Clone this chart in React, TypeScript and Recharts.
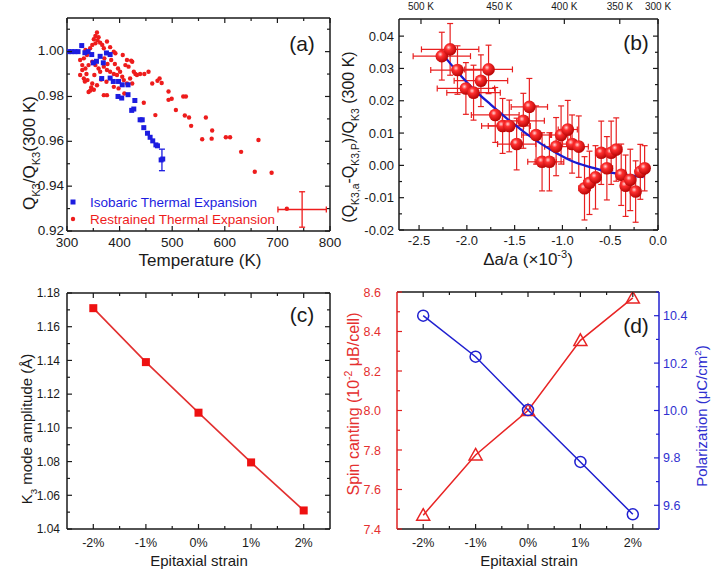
import React from 'react';
import { ScatterChart, ComposedChart, Scatter, Line, XAxis, YAxis, ErrorBar, Legend } from 'recharts';

const W = 712;
const H = 583;
const FONT = '"Liberation Sans", Arial, Helvetica, sans-serif';
const RED = '#ee1c1c';
const BLUE = '#1c1ce0';
const INK = '#1a1a1a';

// ---------------- Panel (a) data ----------------
const isobaricPoints: [number, number][] = [
  [303, 1.0], [309, 1.0], [315, 1.0], [321, 1.0], [328, 1.0027], [334, 0.9995], [340, 1.0],
  [347, 0.9987], [350, 0.995], [356, 0.9957], [363, 0.9979], [369, 0.995], [375, 0.9994],
  [382, 0.9987], [366, 0.988], [382, 0.9882], [388, 0.9867], [398, 0.9867], [405, 0.9852],
  [416, 0.9852], [397, 0.98], [404, 0.9793], [416, 0.9808], [429, 0.9782], [423, 0.9738],
  [427, 0.9744], [439, 0.9696], [443, 0.9696], [446, 0.9661], [453, 0.9636], [458, 0.9618],
  [463, 0.9602], [469, 0.9584], [472, 0.958], [479, 0.9517], [482, 0.9521],
];
const restrainedPoints: [number, number][] = [
  [357, 1.0085], [354, 1.007], [360, 1.0064], [351, 1.0055], [358, 1.005], [363, 1.004],
  [354, 1.0037], [348, 1.003], [367, 1.003], [344, 1.0015], [370, 1.0015], [376, 1.0045],
  [382, 1.002], [389, 1.0], [392, 0.9993], [335, 1.0007], [338, 0.9985], [332, 0.997],
  [325, 0.9963], [329, 0.994], [335, 0.9925], [341, 0.994], [348, 0.9955], [354, 0.994],
  [360, 0.9925], [363, 0.991], [370, 0.9933], [376, 0.9918], [382, 0.991], [389, 0.99],
  [395, 0.9896], [401, 0.991], [405, 0.9888], [408, 0.9873], [411, 0.994], [417, 0.9933],
  [424, 0.9955], [427, 0.991], [430, 0.99], [433, 0.9896], [420, 0.988], [325, 0.9896],
  [332, 0.988], [339, 0.9873], [348, 0.9858], [357, 0.985], [341, 0.982], [346, 0.984],
  [351, 0.983], [370, 0.9806], [376, 0.9806], [329, 0.9918], [337, 0.99], [352, 0.9896],
  [365, 0.9876], [375, 0.9866], [389, 0.9843], [398, 0.9836], [409, 0.9813], [414, 0.9858],
  [424, 0.9858], [439, 0.99], [447, 0.99], [422, 0.996], [455, 0.991], [462, 0.9858],
  [472, 0.987], [476, 0.988], [480, 0.986], [493, 0.9822], [493, 0.9785], [499, 0.979],
  [507, 0.974], [521, 0.98], [526, 0.98], [524, 0.9715], [532, 0.9706], [536, 0.9669],
  [564, 0.9706], [557, 0.9609], [575, 0.9612], [576, 0.9648], [602, 0.9618], [610, 0.9618],
  [631, 0.9553], [664, 0.9606], [657, 0.9464], [689, 0.946], [468, 0.9717], [446, 0.9772],
  [414, 0.9963], [406, 0.9985], [397, 0.9925], [391, 0.9945], [384, 0.9963], [371, 0.997],
  [377, 0.9945], [334, 0.9867], [344, 0.9826], [718, 0.9299],
];
const isobaricErrorPoint = [{ t: 480.5, q: 0.9517, qe: 0.0048 }];
const restrainedErrorCross = [{ t: 747, q: 0.9296, te: 46, qe: 0.0079 }];
const tempMajor = [300, 400, 500, 600, 700, 800];
const tempMinor = [350, 450, 550, 650, 750];
const qMajor = [0.92, 0.94, 0.96, 0.98, 1.0];
const qMinor = [0.93, 0.95, 0.97, 0.99, 1.01];

// ---------------- Panel (b) data ----------------
const bStrain = [-2.262, -2.175, -2.098, -2.01, -1.93, -1.853, -1.773, -1.703, -1.626, -1.556, -1.479, -1.409, -1.346, -1.276, -1.213, -1.136, -1.066, -1.014, -0.944, -0.899, -0.829, -0.769, -0.717, -0.654, -0.594, -0.535, -0.49, -0.437, -0.385, -0.339, -0.29, -0.234, -0.185, -0.14];
const bDev = [0.0338, 0.0359, 0.0295, 0.0238, 0.0225, 0.0262, 0.0297, 0.0156, 0.0122, 0.0122, 0.0066, 0.0138, 0.0181, 0.0094, 0.0011, 0.0011, 0.0058, 0.0094, 0.0111, 0.0066, 0.0058, -0.0071, -0.0054, -0.0037, 0.0039, -0.0009, 0.0039, 0.0049, -0.0029, -0.0063, -0.0045, -0.0081, -0.002, -0.0009];
const bStrainErr = [0.3, 0.3, 0.28, 0.3, 0.28, 0.28, 0.25, 0.25, 0.22, 0.22, 0.2, 0.22, 0.19, 0.15, 0.15, 0.15, 0.12, 0.1, 0.1, 0.1, 0.1, 0.06, 0.06, 0.06, 0.06, 0.06, 0.06, 0.06, 0.05, 0.05, 0.05, 0.05, 0.05, 0.05];
const bDevErr = [0.0074, 0.008, 0.0075, 0.008, 0.0085, 0.008, 0.0075, 0.0085, 0.0085, 0.008, 0.008, 0.0085, 0.0088, 0.009, 0.009, 0.009, 0.009, 0.009, 0.009, 0.009, 0.0095, 0.0098, 0.0098, 0.0098, 0.0098, 0.0098, 0.0098, 0.0098, 0.0095, 0.0095, 0.0095, 0.0095, 0.0085, 0.007];
const fitStrain = [-2.26, -2.1, -1.93, -1.75, -1.58, -1.4, -1.23, -1.05, -0.89, -0.7, -0.53, -0.35, -0.18, -0.15];
const fitDev = [0.0346, 0.029, 0.0236, 0.0188, 0.0145, 0.0103, 0.0068, 0.0036, 0.0012, -0.0006, -0.002, -0.0029, -0.0035, -0.0036];
const bStrainMajor = [-2.5, -2, -1.5, -1, -0.5, 0];
const bStrainMinor = [-2.25, -1.75, -1.25, -0.75, -0.25];
const bDevMajor = [-0.02, -0.01, 0, 0.01, 0.02, 0.03, 0.04];
const bDevMinor = [-0.015, -0.005, 0.005, 0.015, 0.025, 0.035];
const bTempTicks = [-2.48, -1.66, -0.98, -0.4, 0];
const bTempLabels = ['500 K', '450 K', '400 K', '350 K', '300 K'];

// ---------------- Panels (c), (d) data ----------------
const strain = [-2, -1, 0, 1, 2];
const strainLabels = ['-2%', '-1%', '0%', '1%', '2%'];
const strainMinor = [-1.5, -0.5, 0.5, 1.5];
const k3Amplitude = [1.171, 1.139, 1.109, 1.0795, 1.051];
const k3Major = [1.04, 1.06, 1.08, 1.1, 1.12, 1.14, 1.16, 1.18];
const k3Minor = [1.05, 1.07, 1.09, 1.11, 1.13, 1.15, 1.17];
const spinCanting = [7.47, 7.775, 8.0, 8.355, 8.57];
const polarization = [10.4, 10.227, 10.002, 9.783, 9.562];
const spinMajor = [7.4, 7.6, 7.8, 8.0, 8.2, 8.4, 8.6];
const spinMinor = [7.5, 7.7, 7.9, 8.1, 8.3, 8.5];
const polMajor = [9.6, 9.8, 10.0, 10.2, 10.4];
const polMinor = [9.5, 9.7, 9.9, 10.1, 10.3, 10.5];

// ---------------- rows ----------------
const isoRows = isobaricPoints.map(([t, q]) => ({ t, q }));
const resRows = restrainedPoints.map(([t, q]) => ({ t, q }));
const bRows = bStrain.map((x, i) => ({ x, y: bDev[i], xe: bStrainErr[i], ye: bDevErr[i] }));
const fitRows = fitStrain.map((x, i) => ({ x, y: fitDev[i] }));
const cRows = strain.map((s, i) => ({ s, k: k3Amplitude[i] }));
const dRows = strain.map((s, i) => ({ s, spin: spinCanting[i], pol: polarization[i] }));

type Side = 'bottom' | 'top' | 'left' | 'right';
const near = (arr: number[], v: number) => arr.findIndex((m) => Math.abs(m - v) < 1e-6);

function makeTick(side: Side, majors: number[], fmt: ((v: number) => string) | null, opts: { color?: string; size?: number; off?: number; line?: string; lift?: number } = {}) {
  const color = opts.color || INK;
  const size = opts.size || 13;
  const off = opts.off ?? 4;
  const lineColor = opts.line || INK;
  const lift = opts.lift ?? 0.36;
  return (props: any) => {
    const { x, y, payload } = props;
    const v = Number(payload.value);
    const major = near(majors, v) >= 0;
    const len = major ? 5 : 3;
    let l: any;
    let t: any = null;
    if (side === 'bottom') l = <line x1={x} x2={x} y1={y} y2={y - len} />;
    else if (side === 'top') l = <line x1={x} x2={x} y1={y} y2={y + len} />;
    else if (side === 'left') l = <line x1={x} x2={x + len} y1={y} y2={y} />;
    else l = <line x1={x} x2={x - len} y1={y} y2={y} />;
    if (major && fmt) {
      const s = fmt(v);
      const common = { fill: color, fontSize: size, fontFamily: FONT };
      if (side === 'bottom') t = <text x={x} y={y + off} textAnchor="middle" {...common}>{s}</text>;
      else if (side === 'top') t = <text x={x} y={y - off} textAnchor="middle" {...common}>{s}</text>;
      else if (side === 'left') t = <text x={x - off} y={y + size * lift} textAnchor="end" {...common}>{s}</text>;
      else t = <text x={x + off} y={y + size * lift} textAnchor="start" {...common}>{s}</text>;
    }
    return (
      <g>
        <g stroke={lineColor} strokeWidth={1.2}>{l}</g>
        {t}
      </g>
    );
  };
}

const axisBase = {
  type: 'number' as const,
  interval: 0 as const,
  tickSize: 0,
  tickMargin: 0,
  tickLine: false,
  allowDataOverflow: true,
};
const axisLine = (c: string = INK) => ({ stroke: c, strokeWidth: 1.5 });

type Part = [string, 'n' | 'sub' | 'sup'];
function rich(parts: Part[], fontSize: number) {
  let cur = 0;
  return parts.map(([s, kind], i) => {
    const target = kind === 'sub' ? fontSize * 0.3 : kind === 'sup' ? -fontSize * 0.42 : 0;
    const dy = target - cur;
    cur = target;
    return (
      <tspan key={i} dy={dy} fontSize={kind === 'n' ? fontSize : fontSize * 0.65}>
        {s}
      </tspan>
    );
  });
}

function VTitle({ x, y, parts, size, color = INK }: { x: number; y: number; parts: Part[]; size: number; color?: string }) {
  return (
    <text transform={`translate(${x},${y}) rotate(-90)`} textAnchor="middle" fontFamily={FONT} fontSize={size} fill={color}>
      {rich(parts, size)}
    </text>
  );
}
function HTitle({ x, y, parts, size, color = INK }: { x: number; y: number; parts: Part[]; size: number; color?: string }) {
  return (
    <text x={x} y={y} textAnchor="middle" fontFamily={FONT} fontSize={size} fill={color}>
      {rich(parts, size)}
    </text>
  );
}
function PanelTag({ x, y, s }: { x: number; y: number; s: string }) {
  return (
    <text x={x} y={y} textAnchor="middle" fontFamily={FONT} fontSize={21} fill={INK}>
      {s}
    </text>
  );
}

const SquareDot = (size: number, color: string) => (p: any) =>
  p.cx == null ? <g /> : <rect x={p.cx - size / 2} y={p.cy - size / 2} width={size} height={size} fill={color} />;
const RoundDot = (r: number, color: string) => (p: any) =>
  p.cx == null ? <g /> : <circle cx={p.cx} cy={p.cy} r={r} fill={color} />;
const Nothing = () => <g />;

const Sphere = (p: any) => {
  if (p.cx == null) return <g />;
  return (
    <g>
      <defs>
        <radialGradient id="sphereGrad" cx="38%" cy="35%" r="70%">
          <stop offset="0%" stopColor="#ffd6d6" />
          <stop offset="30%" stopColor="#ff3030" />
          <stop offset="100%" stopColor="#b00000" />
        </radialGradient>
      </defs>
      <circle cx={p.cx} cy={p.cy} r={6.3} fill="url(#sphereGrad)" />
    </g>
  );
};

const legendContent = (props: any) => {
  const items = (props.payload || []).filter((p: any) => p.type !== 'none');
  items.sort((a: any, b: any) => (a.type === 'square' ? -1 : 1) - (b.type === 'square' ? -1 : 1));
  return (
    <svg width={270} height={36} style={{ overflow: 'visible', display: 'block' }}>
      {items.map((p: any, i: number) => (
        <g key={i} transform={`translate(0, ${i * 17})`}>
          {p.type === 'square' ? (
            <rect x={2.5} y={5.5} width={5} height={5} fill={p.color} />
          ) : (
            <circle cx={5} cy={8} r={2.2} fill={p.color} />
          )}
          <text x={22} y={13} fontSize={13.5} fontFamily={FONT} fill={p.color}>
            {p.value}
          </text>
        </g>
      ))}
    </svg>
  );
};

const layer: React.CSSProperties = { position: 'absolute', left: 0, top: 0 };

// Each chart spans the whole page; margins place its plot area. Axes are 1px thick boxes.
function PanelA() {
  return (
    <ScatterChart width={W} height={H} margin={{ top: 17, left: 66, right: 381, bottom: 351 }}>
      <XAxis {...axisBase} dataKey="t" domain={[300, 800]} ticks={[...tempMajor, ...tempMinor]} height={1} axisLine={axisLine()}
        tick={makeTick('bottom', tempMajor, (v) => String(v), { size: 13.5, off: 16 })} />
      <XAxis {...axisBase} xAxisId="top" orientation="top" dataKey="t" domain={[300, 800]} ticks={[...tempMajor, ...tempMinor]} height={1} axisLine={axisLine()}
        tick={makeTick('top', tempMajor, null)} />
      <YAxis {...axisBase} dataKey="q" domain={[0.92, 1.015]} ticks={[...qMajor, ...qMinor]} width={1} axisLine={axisLine()}
        tick={makeTick('left', qMajor, (v) => v.toFixed(2), { size: 13.5, off: 3, lift: 0.28 })} />
      <YAxis {...axisBase} yAxisId="right" orientation="right" dataKey="q" domain={[0.92, 1.015]} ticks={[...qMajor, ...qMinor]} width={1} axisLine={axisLine()}
        tick={makeTick('right', qMajor, null)} />
      <Scatter name="Restrained Thermal Expansion" data={resRows} fill={RED} legendType="circle" shape={RoundDot(2.2, RED)} isAnimationActive={false} />
      <Scatter name="Isobaric Thermal Expansion" data={isoRows} fill={BLUE} legendType="square" shape={SquareDot(5, BLUE)} isAnimationActive={false} />
      <Scatter name="iso-err" data={isobaricErrorPoint} fill={BLUE} legendType="none" shape={Nothing} isAnimationActive={false}>
        <ErrorBar dataKey="qe" direction="y" width={3} stroke={BLUE} strokeWidth={1.3} isAnimationActive={false} />
      </Scatter>
      <Scatter name="res-err" data={restrainedErrorCross} fill={RED} legendType="none" shape={Nothing} isAnimationActive={false}>
        <ErrorBar dataKey="qe" direction="y" width={3} stroke={RED} strokeWidth={1.3} isAnimationActive={false} />
        <ErrorBar dataKey="te" direction="x" width={3} stroke={RED} strokeWidth={1.3} isAnimationActive={false} />
      </Scatter>
      <Legend content={legendContent} layout="vertical" align="center" verticalAlign="middle"
        wrapperStyle={{ left: 68, top: 194, width: 270, height: 36 }} />
      <VTitle x={35} y={153} size={17} parts={[['Q', 'n'], ['K3', 'sub'], ['/Q', 'n'], ['K3', 'sub'], ['(300 K)', 'n']]} />
      <HTitle x={200} y={266} size={17} parts={[['Temperature (K)', 'n']]} />
      <PanelTag x={302} y={51} s="(a)" />
    </ScatterChart>
  );
}

function PanelB() {
  return (
    <ComposedChart width={W} height={H} margin={{ top: 18, left: 398, right: 53, bottom: 352 }}>
      <XAxis {...axisBase} dataKey="x" domain={[-2.71, 0]} ticks={[...bStrainMajor, ...bStrainMinor]} height={1} axisLine={axisLine()}
        tick={makeTick('bottom', bStrainMajor, (v) => v.toFixed(1), { size: 13, off: 15 })} />
      <XAxis {...axisBase} xAxisId="top" orientation="top" dataKey="x" domain={[-2.71, 0]} ticks={bTempTicks} height={1} axisLine={axisLine()}
        tick={makeTick('top', bTempTicks, (v) => bTempLabels[near(bTempTicks, v)], { size: 10, off: 9 })} />
      <YAxis {...axisBase} dataKey="y" domain={[-0.02, 0.0453]} ticks={[...bDevMajor, ...bDevMinor]} width={1} axisLine={axisLine()}
        tick={makeTick('left', bDevMajor, (v) => v.toFixed(2), { size: 13, off: 5 })} />
      <YAxis {...axisBase} yAxisId="right" orientation="right" dataKey="y" domain={[-0.02, 0.0453]} ticks={[...bDevMajor, ...bDevMinor]} width={1} axisLine={axisLine()}
        tick={makeTick('right', bDevMajor, null)} />
      <Scatter name="dev" data={bRows} fill={RED} shape={Sphere} isAnimationActive={false}>
        <ErrorBar dataKey="ye" direction="y" width={3} stroke="#e82020" strokeWidth={1.2} isAnimationActive={false} />
        <ErrorBar dataKey="xe" direction="x" width={3} stroke="#e82020" strokeWidth={1.2} isAnimationActive={false} />
      </Scatter>
      <Line data={fitRows} dataKey="y" type="monotone" stroke="#1a1ad0" strokeWidth={2.3} dot={false} isAnimationActive={false} />
      <VTitle x={354} y={137} size={16} parts={[['(Q', 'n'], ['K3,a', 'sub'], ['-Q', 'n'], ['K3,P', 'sub'], [')/Q', 'n'], ['K3', 'sub'], [' (300 K)', 'n']]} />
      <HTitle x={528} y={265} size={17} parts={[['Δa/a (×10', 'n'], ['-3', 'sup'], [')', 'n']]} />
      <PanelTag x={636} y={50} s="(b)" />
    </ComposedChart>
  );
}

function PanelC() {
  return (
    <ComposedChart width={W} height={H} data={cRows} margin={{ top: 292, left: 66, right: 381, bottom: 53 }}>
      <XAxis {...axisBase} dataKey="s" domain={[-2.5, 2.5]} ticks={[...strain, ...strainMinor]} height={1} axisLine={axisLine()}
        tick={makeTick('bottom', strain, (v) => strainLabels[near(strain, v)], { size: 12.5, off: 18 })} />
      <XAxis {...axisBase} xAxisId="top" orientation="top" dataKey="s" domain={[-2.5, 2.5]} ticks={[...strain, ...strainMinor]} height={1} axisLine={axisLine()}
        tick={makeTick('top', strain, null)} />
      <YAxis {...axisBase} domain={[1.04, 1.18]} ticks={[...k3Major, ...k3Minor]} width={1} axisLine={axisLine()}
        tick={makeTick('left', k3Major, (v) => v.toFixed(2), { size: 12, off: 7 })} />
      <YAxis {...axisBase} yAxisId="right" orientation="right" domain={[1.04, 1.18]} ticks={[...k3Major, ...k3Minor]} width={1} axisLine={axisLine()}
        tick={makeTick('right', k3Major, null)} />
      <Line dataKey="k" type="linear" stroke="#e23030" strokeWidth={1.6} dot={SquareDot(8, '#ee1111')} isAnimationActive={false} />
      <VTitle x={32} y={429} size={15} parts={[['K', 'n'], ['3', 'sub'], [' mode amplitude (Å)', 'n']]} />
      <HTitle x={199} y={566} size={15} parts={[['Epitaxial strain', 'n']]} />
      <PanelTag x={302} y={322} s="(c)" />
    </ComposedChart>
  );
}

const Triangle = (color: string) => (p: any) =>
  p.cx == null ? <g /> : (
    <path d={`M${p.cx},${p.cy - 6.5} L${p.cx + 6.5},${p.cy + 5} L${p.cx - 6.5},${p.cy + 5} Z`} fill="none" stroke={color} strokeWidth={1.5} />
  );
const OpenCircle = (color: string) => (p: any) =>
  p.cx == null ? <g /> : <circle cx={p.cx} cy={p.cy} r={5.5} fill="none" stroke={color} strokeWidth={1.5} />;

function PanelD() {
  return (
    <ComposedChart width={W} height={H} data={dRows} margin={{ top: 291, left: 396, right: 52, bottom: 53 }}>
      <XAxis {...axisBase} dataKey="s" domain={[-2.5, 2.5]} ticks={[...strain, ...strainMinor]} height={1} axisLine={axisLine()}
        tick={makeTick('bottom', strain, (v) => strainLabels[near(strain, v)], { size: 12.5, off: 18 })} />
      <XAxis {...axisBase} xAxisId="top" orientation="top" dataKey="s" domain={[-2.5, 2.5]} ticks={[...strain, ...strainMinor]} height={1} axisLine={axisLine()}
        tick={makeTick('top', strain, null)} />
      <YAxis {...axisBase} domain={[7.4, 8.6]} ticks={[...spinMajor, ...spinMinor]} width={1} axisLine={axisLine('#e02020')}
        tick={makeTick('left', spinMajor, (v) => v.toFixed(1), { size: 12.5, off: 16, color: '#e53030', line: '#e02020' })} />
      <YAxis {...axisBase} yAxisId="right" orientation="right" domain={[9.5, 10.5]} ticks={[...polMajor, ...polMinor]} width={1} axisLine={axisLine('#2020d0')}
        tick={makeTick('right', polMajor, (v) => v.toFixed(1), { size: 12.5, off: 4, color: '#3030d0', line: '#2020d0' })} />
      <Line dataKey="spin" type="linear" stroke="#e82424" strokeWidth={1.5} dot={Triangle('#e82424')} isAnimationActive={false} />
      <Line dataKey="pol" yAxisId="right" type="linear" stroke="#2020d0" strokeWidth={1.5} dot={OpenCircle('#2020d0')} isAnimationActive={false} />
      <VTitle x={359} y={404} size={16} color="#e53030" parts={[['Spin canting (10', 'n'], ['-2', 'sup'], [' μB/cell)', 'n']]} />
      <VTitle x={707} y={416} size={15} color="#3030d0" parts={[['Polarization (μC/cm', 'n'], ['2', 'sup'], [')', 'n']]} />
      <HTitle x={529} y={566} size={15} parts={[['Epitaxial strain', 'n']]} />
      <PanelTag x={636} y={333} s="(d)" />
    </ComposedChart>
  );
}

export default function App() {
  return (
    <div style={{ position: 'absolute', left: 0, top: 0, width: W, height: H, background: '#fff', overflow: 'hidden' }}>
      <div style={layer}><PanelA /></div>
      <div style={layer}><PanelB /></div>
      <div style={layer}><PanelC /></div>
      <div style={layer}><PanelD /></div>
    </div>
  );
}
